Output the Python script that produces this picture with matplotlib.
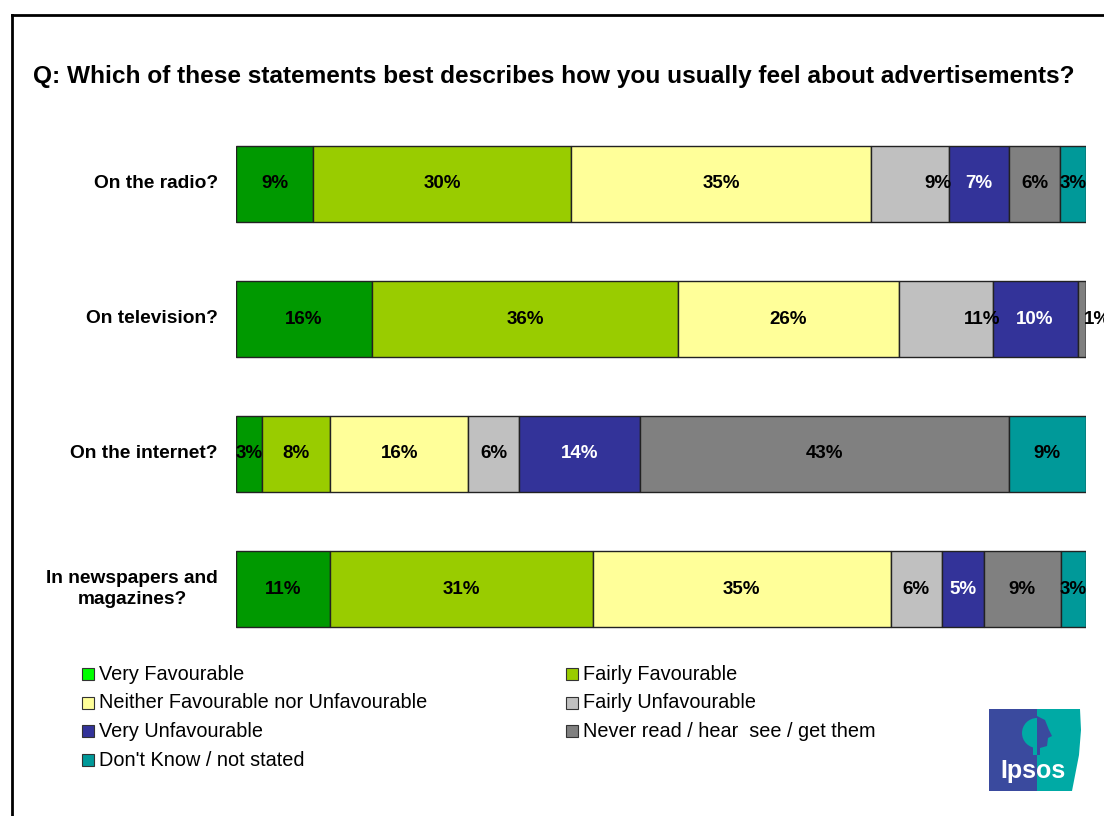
import matplotlib
matplotlib.use("Agg")
import matplotlib.pyplot as plt
import numpy as np
from matplotlib.patches import Rectangle, Polygon, Wedge
from matplotlib.transforms import IdentityTransform

plt.rcParams['font.family'] = ['Liberation Sans', 'DejaVu Sans']

title = "Q: Which of these statements best describes how you usually feel about advertisements?"
categories = ["On the radio?", "On television?", "On the internet?", "In newspapers and\nmagazines?"]
series = [
    "Very Favourable",
    "Fairly Favourable",
    "Neither Favourable nor Unfavourable",
    "Fairly Unfavourable",
    "Very Unfavourable",
    "Never read / hear  see / get them",
    "Don't Know / not stated",
]
# percentages per category, in series order
very_fav = [9, 16, 3, 11]
fairly_fav = [30, 36, 8, 31]
neither = [35, 26, 16, 35]
fairly_unfav = [9, 11, 6, 6]
very_unfav = [7, 10, 14, 5]
never = [6, 1, 43, 9]
dont_know = [3, 0, 9, 3]

bar_colors = ["#009900", "#99CC00", "#FFFF99", "#C0C0C0", "#333399", "#808080", "#009999"]
legend_colors = ["#00FF00", "#99CC00", "#FFFF99", "#C0C0C0", "#333399", "#808080", "#009999"]
text_colors = ["black", "black", "black", "black", "white", "black", "black"]

data = np.array([very_fav, fairly_fav, neither, fairly_unfav, very_unfav, never, dont_know], dtype=float)
shares = data / data.sum(axis=0)  # 100% stacked

W, H = 1104, 816
fig = plt.figure(figsize=(W / 100, H / 100), dpi=100)

# plot area in pixel coords
x0, x1 = 236, 1086
y_top, y_bot = 116.5, 656.5
ax = fig.add_axes([x0 / W, 1 - y_bot / H, (x1 - x0) / W, (y_bot - y_top) / H])

ypos = np.arange(len(categories))
left = np.zeros(len(categories))
for i in range(len(series)):
    ax.barh(ypos, shares[i], left=left, height=0.556, color=bar_colors[i],
            edgecolor="#222222", linewidth=1.0)
    for j in range(len(categories)):
        if data[i, j] <= 0:
            continue
        xc = left[j] + shares[i, j] / 2
        dx = 0
        # labels pushed right where the segment is crowded
        if i == 3 and j in (0, 1):
            dx = (left[j] + shares[i, j]) - xc - 0.012
        if i == 5 and j == 1:
            dx = 0.019
        ax.text(xc + dx, ypos[j], f"{int(data[i, j])}%", ha="center", va="center",
                fontsize=13.5, fontweight="bold", color=text_colors[i], clip_on=False)
    left += shares[i]

ax.set_xlim(0, 1)
ax.set_ylim(len(categories) - 0.5, -0.5)
ax.axis("off")

for j, cat in enumerate(categories):
    yp = 184 + 135 * j
    fig.text(218 / W, 1 - yp / H, cat, ha="right", va="center", multialignment="center",
             fontsize=13.8, fontweight="bold", linespacing=1.3)

fig.text(33 / W, 1 - 77 / H, title, ha="left", va="center", fontsize=17.6, fontweight="bold")

# legend, two columns filled row by row
for k, name in enumerate(series):
    col, row = k % 2, k // 2
    sx = 82 if col == 0 else 566
    sy = 674 + 28.7 * row
    fig.add_artist(Rectangle((sx / W, 1 - (sy + 6) / H), 12 / W, 12 / H,
                             transform=fig.transFigure, facecolor=legend_colors[k],
                             edgecolor="#333333", linewidth=0.8))
    fig.text((sx + 17) / W, 1 - sy / H, name, ha="left", va="center", fontsize=14.3)

# outer frame
fig.add_artist(plt.Line2D([12 / W, 12 / W], [0, 1 - 15 / H], color="black", linewidth=2,
                          transform=fig.transFigure))
fig.add_artist(plt.Line2D([12 / W, 1], [1 - 15 / H, 1 - 15 / H], color="black", linewidth=2,
                          transform=fig.transFigure))

# logo
def px(x, y):
    return (x / W, 1 - y / H)

blue, teal = "#3A4A9E", "#00AAA5"
fig.add_artist(Polygon([px(989, 709), px(1037, 709), px(1037, 791), px(989, 791)],
                       closed=True, transform=fig.transFigure, facecolor=blue, edgecolor="none"))
fig.add_artist(Polygon([px(1037, 709), px(1080, 709), px(1081, 730), px(1079, 755),
                        px(1072, 791), px(1037, 791)],
                       closed=True, transform=fig.transFigure, facecolor=teal, edgecolor="none"))
pix = IdentityTransform()
fig.add_artist(Wedge((1037, H - 733), 15, 90, 270, transform=pix, facecolor=teal, edgecolor="none"))
fig.add_artist(Rectangle((1033, H - 755), 4, 10, transform=pix, facecolor=teal, edgecolor="none"))
fig.add_artist(Polygon([(1037, H - 716), (1045, H - 720), (1049, H - 730), (1052, H - 736),
                        (1048, H - 738), (1047, H - 746), (1040, H - 748), (1040, H - 755),
                        (1037, H - 755)],
                       closed=True, transform=pix, facecolor=blue, edgecolor="none"))
fig.text(1033 / W, 1 - 771 / H, "Ipsos", ha="center", va="center", fontsize=18,
         fontweight="bold", color="white")

fig.savefig("out.png", dpi=100)
